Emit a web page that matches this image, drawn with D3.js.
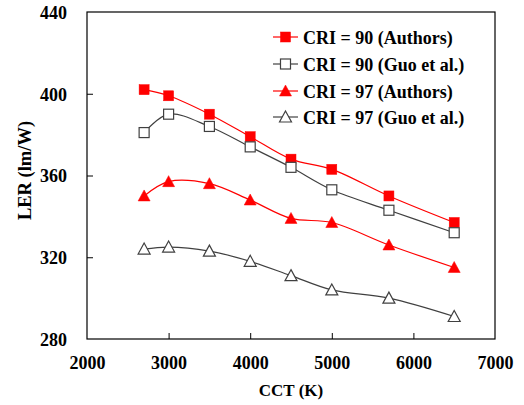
<!DOCTYPE html>
<html>
<head>
<meta charset="utf-8">
<script src="https://cdn.jsdelivr.net/npm/d3@7/dist/d3.min.js"></script>
<style>
  html, body { margin: 0; padding: 0; background: #fff; }
  svg { display: block; }
</style>
</head>
<body>
<svg id="chart" width="524" height="405"></svg>
<script>
// CCT values (K) shared by all series
const cct = [2700, 3000, 3500, 4000, 4500, 5000, 5700, 6500];

// Luminous efficacy of radiation (lm/W)
const cri90Authors = [402, 399, 390, 379, 368, 363, 350, 337];
const cri90Guo     = [381, 390, 384, 374, 364, 353, 343, 332];
const cri97Authors = [350, 357, 356, 348, 339, 337, 326, 315];
const cri97Guo     = [324, 325, 323, 318, 311, 304, 300, 291];

const seriesNames = ["CRI = 90 (Authors)", "CRI = 90 (Guo et al.)", "CRI = 97 (Authors)", "CRI = 97 (Guo et al.)"];

const xTicks = [2000, 3000, 4000, 5000, 6000, 7000];
const yTicks = [280, 320, 360, 400, 440];

const FONT = '"Liberation Serif", "Times New Roman", serif';

const series = [
  { name: seriesNames[0], values: cri90Authors, color: "#ff0000", shape: "square",   filled: true },
  { name: seriesNames[1], values: cri90Guo,     color: "#404040", shape: "square",   filled: false },
  { name: seriesNames[2], values: cri97Authors, color: "#ff0000", shape: "triangle", filled: true },
  { name: seriesNames[3], values: cri97Guo,     color: "#404040", shape: "triangle", filled: false }
];

const svg = d3.select("#chart");
const m = { left: 87, top: 12, right: 495, bottom: 339 };

const x = d3.scaleLinear().domain([2000, 7000]).range([m.left, m.right]);
const y = d3.scaleLinear().domain([280, 440]).range([m.bottom, m.top]);

function styleText(sel, size) {
  return sel.style("font-family", FONT).style("font-weight", "bold")
    .style("font-size", size + "px").style("fill", "#000");
}

// Plot frame
svg.append("rect")
  .attr("x", m.left).attr("y", m.top)
  .attr("width", m.right - m.left).attr("height", m.bottom - m.top)
  .attr("fill", "none").attr("stroke", "#000").attr("stroke-width", 1.2);

// Axes with inward ticks
const xAxis = svg.append("g").attr("transform", `translate(0,${m.bottom})`)
  .call(d3.axisBottom(x).tickValues(xTicks).tickSize(-6).tickPadding(16).tickFormat(d3.format("d")));
const yAxis = svg.append("g").attr("transform", `translate(${m.left},0)`)
  .call(d3.axisLeft(y).tickValues(yTicks).tickSize(-6).tickPadding(20).tickFormat(d3.format("d")));

[xAxis, yAxis].forEach(g => {
  g.select(".domain").remove();
  g.selectAll(".tick line").attr("stroke", "#000").attr("stroke-width", 1);
  styleText(g.selectAll(".tick text"), 18);
});
xAxis.selectAll(".tick text").attr("y", 30).attr("dy", null);
yAxis.selectAll(".tick text").attr("x", -20).attr("dy", "0.36em");
// Hide the tick marks that sit on the frame edges
xAxis.selectAll(".tick").filter(d => d === 2000 || d === 7000).select("line").remove();
yAxis.selectAll(".tick").filter(d => d === 280 || d === 440).select("line").remove();

// Axis titles
styleText(svg.append("text")
  .attr("x", (m.left + m.right) / 2).attr("y", 396)
  .attr("text-anchor", "middle")
  .text("CCT (K)"), 17);
styleText(svg.append("text")
  .attr("transform", `translate(31,${(m.top + m.bottom) / 2 - 5}) rotate(-90)`)
  .attr("text-anchor", "middle")
  .text("LER (lm/W)"), 18.5);

// Marker drawing helper
function drawMarker(g, shape, filled, color, cx, cy) {
  const fill = filled ? color : "#fff";
  const sw = filled ? 0.5 : 1.2;
  if (shape === "square") {
    g.append("rect")
      .attr("x", cx - 5).attr("y", cy - 5).attr("width", 10).attr("height", 10)
      .attr("fill", fill).attr("stroke", color).attr("stroke-width", sw);
  } else {
    g.append("path")
      .attr("d", `M${cx},${cy - 6}L${cx + 6},${cy + 5}L${cx - 6},${cy + 5}Z`)
      .attr("fill", fill).attr("stroke", color).attr("stroke-width", sw);
  }
}

// Smoothed lines and markers
const line = d3.line()
  .x((d, i) => x(cct[i]))
  .y(d => y(d))
  .curve(d3.curveCatmullRom.alpha(0.5));

series.forEach(s => {
  svg.append("path")
    .datum(s.values)
    .attr("d", line)
    .attr("fill", "none")
    .attr("stroke", s.color)
    .attr("stroke-width", 1.2);
});
series.forEach(s => {
  const g = svg.append("g");
  s.values.forEach((v, i) => drawMarker(g, s.shape, s.filled, s.color, x(cct[i]), y(v)));
});

// Legend
const legendY = [37, 64, 91, 117];
series.forEach((s, i) => {
  const g = svg.append("g");
  g.append("line")
    .attr("x1", 273).attr("x2", 298)
    .attr("y1", legendY[i]).attr("y2", legendY[i])
    .attr("stroke", s.color).attr("stroke-width", 1.2);
  drawMarker(g, s.shape, s.filled, s.color, 285.5, legendY[i]);
  styleText(g.append("text")
    .attr("x", 303).attr("y", legendY[i] + 7)
    .text(s.name), 18);
});
</script>
</body>
</html>
